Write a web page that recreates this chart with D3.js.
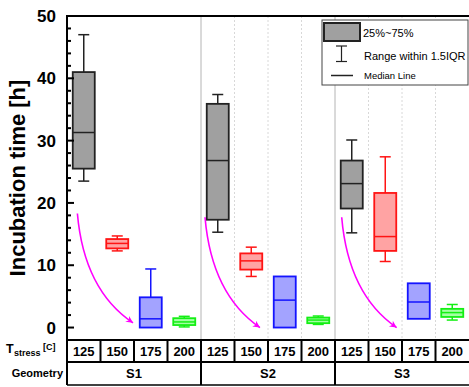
<!DOCTYPE html>
<html>
<head>
<meta charset="utf-8">
<script src="https://cdn.jsdelivr.net/npm/d3@7"></script>
<style>
  body { margin: 0; background: #fff; }
  svg { font-family: Arial, "Liberation Sans", sans-serif; }
</style>
</head>
<body>
<div id="chart"></div>
<script>
// data
const geometries = ["S1", "S2", "S3"];
const temps = ["125", "150", "175", "200"];
// box stats, one value per (geometry, temp), order S1-125 ... S3-200
const whiskLow = [23.5, 12.3, null, 0.1, 15.3, 8.2, null, 0.5, 15.2, 10.6, null, 1.2];
const q1 = [25.5, 12.7, 0, 0.4, 17.3, 9.3, 0, 0.7, 19.1, 12.3, 1.4, 1.7];
const median = [31.3, 13.5, 1.4, 0.9, 26.8, 10.7, 4.4, 1.2, 23.1, 14.6, 4.1, 2.4];
const q3 = [41.0, 14.2, 4.85, 1.5, 35.9, 11.9, 8.2, 1.6, 26.8, 21.6, 7.1, 3.0];
const whiskHigh = [47.0, 14.7, 9.4, 1.8, 37.4, 12.9, null, 1.85, 30.1, 27.4, null, 3.7];
// trend arrows: [category position, value] for start and end
const arrowStart = [[-0.19, 18.3], [3.62, 17.7], [7.7, 17.7]];
const arrowEnd = [[1.47, 0.75], [5.26, 0.0], [9.34, 0.0]];
const yTicks = [0, 10, 20, 30, 40, 50];

const fills = { "125": "#a0a0a0", "150": "#ffa3a3", "175": "#a3a3ff", "200": "#a3ffa3" };
const strokes = { "125": "#222222", "150": "#ff1414", "175": "#1414ff", "200": "#14ef14" };

const W = 469, H = 387;
const pLeft = 67, pRight = 469, pTop = 16, pBottom = 340;
const rowH1 = 22, rowH2 = 23;

const cats = [];
geometries.forEach(g => temps.forEach(t => cats.push({ g, t })));

const svg = d3.select("#chart").append("svg").attr("width", W).attr("height", H);

const x = d3.scaleBand().domain(d3.range(cats.length)).range([pLeft, pRight]).padding(0);
const step = x.step();
const xc = d3.scaleLinear().domain([0, 1]).range([pLeft + step / 2, pLeft + step * 1.5]);
const y = d3.scaleLinear().domain([-2, 50]).range([pBottom, pTop]);

// grid lines
cats.forEach((c, i) => {
  if (i === 0) return;
  const xx = x(i);
  if (i % 4 === 0) {
    svg.append("line").attr("x1", xx).attr("x2", xx).attr("y1", pTop).attr("y2", pBottom)
      .attr("stroke", "#b4b4b4").attr("stroke-width", 1);
  } else if (i > 4) {
    svg.append("line").attr("x1", xx).attr("x2", xx).attr("y1", pTop).attr("y2", pBottom)
      .attr("stroke", "#d8d8d8").attr("stroke-width", 1).attr("stroke-dasharray", "2,2");
  }
});

// boxes
const boxW = 22, capW = 11;
const boxes = svg.append("g");
cats.forEach((c, i) => {
  const cx = x(i) + step / 2;
  const g = boxes.append("g");
  const st = strokes[c.t];
  if (whiskHigh[i] != null) {
    g.append("line").attr("x1", cx).attr("x2", cx).attr("y1", y(q3[i])).attr("y2", y(whiskHigh[i])).attr("stroke", st).attr("stroke-width", 1.5);
    g.append("line").attr("x1", cx - capW / 2).attr("x2", cx + capW / 2).attr("y1", y(whiskHigh[i])).attr("y2", y(whiskHigh[i])).attr("stroke", st).attr("stroke-width", 1.5);
  }
  if (whiskLow[i] != null) {
    g.append("line").attr("x1", cx).attr("x2", cx).attr("y1", y(q1[i])).attr("y2", y(whiskLow[i])).attr("stroke", st).attr("stroke-width", 1.5);
    g.append("line").attr("x1", cx - capW / 2).attr("x2", cx + capW / 2).attr("y1", y(whiskLow[i])).attr("y2", y(whiskLow[i])).attr("stroke", st).attr("stroke-width", 1.5);
  }
  g.append("rect").attr("x", cx - boxW / 2).attr("width", boxW)
    .attr("y", y(q3[i])).attr("height", y(q1[i]) - y(q3[i]))
    .attr("fill", fills[c.t]).attr("stroke", st).attr("stroke-width", 1.8);
  g.append("line").attr("x1", cx - boxW / 2).attr("x2", cx + boxW / 2)
    .attr("y1", y(median[i])).attr("y2", y(median[i])).attr("stroke", st).attr("stroke-width", 1.5);
});

// arrows
svg.append("defs").append("marker").attr("id", "head")
  .attr("viewBox", "0 0 10 10").attr("refX", 10).attr("refY", 5)
  .attr("markerWidth", 11).attr("markerHeight", 7).attr("markerUnits", "userSpaceOnUse")
  .attr("orient", "auto")
  .append("path").attr("d", "M0,0 L10,5 L0,10 L3,5 Z").attr("fill", "#ff00ff");

arrowStart.forEach((s, k) => {
  const e = arrowEnd[k];
  const x0 = xc(s[0]), y0 = y(s[1]), x1 = xc(e[0]), y1 = y(e[1]);
  const p = d3.path();
  p.moveTo(x0, y0);
  p.quadraticCurveTo(x0 + 0.12 * (x1 - x0), y0 + 0.7 * (y1 - y0), x1, y1);
  svg.append("path").attr("d", p.toString()).attr("fill", "none")
    .attr("stroke", "#ff00ff").attr("stroke-width", 1.6).attr("marker-end", "url(#head)");
});

// y axis
const minor = d3.range(0, 51, 2);
svg.append("g").selectAll("line").data(minor).join("line")
  .attr("x1", pLeft).attr("x2", d => pLeft + (d % 10 === 0 ? 7 : 4))
  .attr("y1", d => y(d)).attr("y2", d => y(d))
  .attr("stroke", "#000").attr("stroke-width", 2);
svg.append("g").selectAll("text").data(yTicks).join("text")
  .attr("x", 56).attr("y", d => y(d)).attr("dy", "0.36em")
  .attr("text-anchor", "end").attr("font-size", 17).attr("font-weight", "bold")
  .text(d => d);

svg.append("text").attr("transform", "translate(25,178) rotate(-90)")
  .attr("text-anchor", "middle").attr("font-size", 22).attr("font-weight", "bold")
  .text("Incubation time [h]");

// frame
svg.append("line").attr("x1", pLeft).attr("x2", pRight).attr("y1", pTop).attr("y2", pTop).attr("stroke", "#000").attr("stroke-width", 2);
svg.append("line").attr("x1", pLeft).attr("x2", pLeft).attr("y1", pTop - 1).attr("y2", pBottom + rowH1 + rowH2).attr("stroke", "#000").attr("stroke-width", 2);

// legend
const lg = svg.append("g");
lg.append("rect").attr("x", 322).attr("y", 20).attr("width", 146).attr("height", 65)
  .attr("fill", "#fff").attr("stroke", "#444").attr("stroke-width", 1);
lg.append("rect").attr("x", 324).attr("y", 23).attr("width", 36).attr("height", 18)
  .attr("fill", fills["125"]).attr("stroke", "#222").attr("stroke-width", 2);
lg.append("line").attr("x1", 341.5).attr("x2", 341.5).attr("y1", 46).attr("y2", 61.5).attr("stroke", "#222").attr("stroke-width", 1.2);
lg.append("line").attr("x1", 336).attr("x2", 347).attr("y1", 46).attr("y2", 46).attr("stroke", "#222").attr("stroke-width", 1.2);
lg.append("line").attr("x1", 336).attr("x2", 347).attr("y1", 61.5).attr("y2", 61.5).attr("stroke", "#222").attr("stroke-width", 1.2);
lg.append("line").attr("x1", 331).attr("x2", 353).attr("y1", 75.5).attr("y2", 75.5).attr("stroke", "#222").attr("stroke-width", 1.5);
lg.append("text").attr("x", 363).attr("y", 36.5).attr("font-size", 11).text("25%~75%");
lg.append("text").attr("x", 364).attr("y", 60).attr("font-size", 11).text("Range within 1.5IQR");
lg.append("text").attr("x", 364).attr("y", 79).attr("font-size", 9.5).text("Median Line");

// table below the plot
const tb = svg.append("g");
const r1 = pBottom, r2 = pBottom + rowH1, r3 = pBottom + rowH1 + rowH2;
tb.append("line").attr("x1", pLeft).attr("x2", pRight).attr("y1", r1).attr("y2", r1).attr("stroke", "#000").attr("stroke-width", 2);
tb.append("line").attr("x1", pLeft).attr("x2", pRight).attr("y1", r2).attr("y2", r2).attr("stroke", "#000").attr("stroke-width", 2);
tb.append("line").attr("x1", pLeft).attr("x2", pRight).attr("y1", r3).attr("y2", r3).attr("stroke", "#000").attr("stroke-width", 1.5);
cats.forEach((c, i) => {
  if (i > 0) {
    tb.append("line").attr("x1", x(i)).attr("x2", x(i)).attr("y1", r1).attr("y2", i % 4 === 0 ? r3 : r2)
      .attr("stroke", "#000").attr("stroke-width", 2);
  }
  tb.append("text").attr("x", x(i) + step / 2).attr("y", (r1 + r2) / 2).attr("dy", "0.36em")
    .attr("text-anchor", "middle").attr("font-size", 13).attr("font-weight", "bold").text(c.t);
});
geometries.forEach((g, k) => {
  tb.append("text").attr("x", x(k * 4) + step * 2).attr("y", (r2 + r3) / 2).attr("dy", "0.36em")
    .attr("text-anchor", "middle").attr("font-size", 13).attr("font-weight", "bold").text(g);
});

// row labels
tb.append("text").attr("x", 6).attr("y", 353).attr("font-size", 12.5).attr("font-weight", "bold").text("T");
tb.append("text").attr("x", 14).attr("y", 356).attr("font-size", 9).attr("font-weight", "bold").text("stress");
tb.append("text").attr("x", 43).attr("y", 350).attr("font-size", 9).attr("font-weight", "bold").text("[C]");
tb.append("text").attr("x", 63).attr("y", (r2 + r3) / 2).attr("dy", "0.36em")
  .attr("text-anchor", "end").attr("font-size", 11).attr("font-weight", "bold").text("Geometry");
</script>
</body>
</html>
